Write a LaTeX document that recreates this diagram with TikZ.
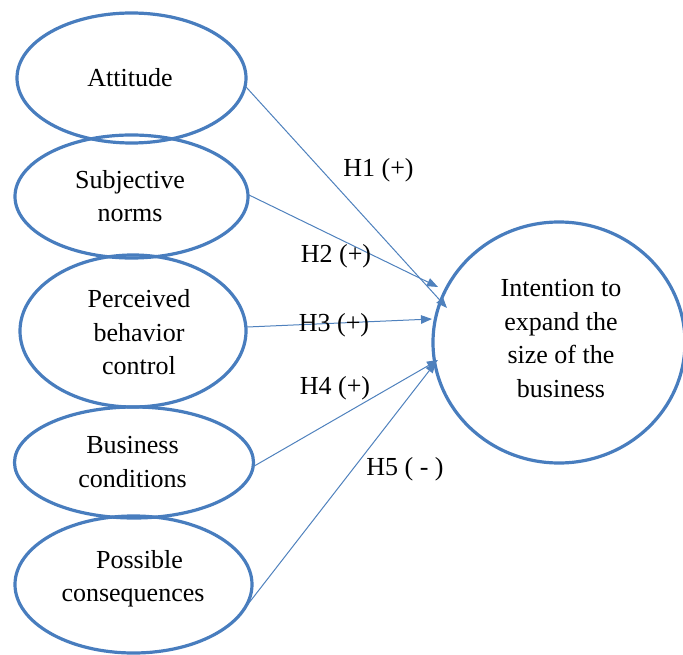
\documentclass[tikz,border=0pt]{standalone}
\usepackage{fontspec}
\setmainfont{Liberation Serif}
\usetikzlibrary{arrows.meta,shapes.geometric}
\definecolor{ovalblue}{RGB}{72,125,190}
\definecolor{lineblue}{RGB}{79,129,189}
\begin{document}
\begin{tikzpicture}[x=1pt,y=-1pt,
  oval/.style={draw=ovalblue, line width=3.2pt, ellipse, inner sep=0pt, outer sep=0pt},
  txt/.style={font=\fontsize{26}{33.5}\selectfont, align=center, inner sep=0pt},
  hyp/.style={font=\fontsize{26}{30}\selectfont, anchor=base, inner sep=0pt},
  link/.style={draw=lineblue, line width=1pt, -{Triangle[length=11pt,width=8.5pt]}}]
\useasboundingbox (0,0) rectangle (683,655);
\clip (0,0) rectangle (683,655);
% ovals
\node[oval, minimum width=229pt, minimum height=130pt] (att) at (131.5,78) {};
\node[oval, minimum width=233pt, minimum height=123pt] (sn) at (131.5,196.5) {};
\node[oval, minimum width=226pt, minimum height=152pt] (pbc) at (133,331) {};
\node[oval, minimum width=239pt, minimum height=111pt] (bc) at (134,462.5) {};
\node[oval, minimum width=237pt, minimum height=137pt] (pc) at (133.5,584.5) {};
\node[oval, minimum width=252pt, minimum height=241pt] (int) at (559,342.5) {};
% texts
\node[txt] (att-t) at (130,78) {Attitude};
\node[txt] (sn-t) at (130,196) {Subjective\\norms};
\node[txt] (pbc-t) at (139,332.5) {Perceived\\behavior\\control};
\node[txt] (bc-t) at (132.5,462) {Business\\conditions};
\node[txt] (pc-t) at (133,578.5) {\hspace*{13pt}Possible\\consequences};
\node[txt] (int-t) at (561,338.5) {Intention to\\expand the\\size of the\\business};
% arrow ends
\coordinate (e1) at (447,308);
\coordinate (e2) at (438,287);
\coordinate (e3) at (432,319);
\coordinate (e4) at (438,360);
\coordinate (e5) at (436,362);
% connectors
\draw[link] (att.-4) -- (e1);
\draw[link] (sn.1.2) -- (e2);
\draw[link] (pbc.2.6) -- (e3);
\draw[link] (bc.-2.1) -- (e4);
\draw[link] (pc.-13.5) -- (e5);
% labels
\node[hyp] (h1) at (378.5,177) {H1 (+)};
\node[hyp] (h2) at (336,263) {H2 (+)};
\node[hyp] (h3) at (334,331) {H3 (+)};
\node[hyp] (h4) at (335,394) {H4 (+)};
\node[hyp] (h5) at (405,475) {H5 ( - )};
\end{tikzpicture}
\end{document}
